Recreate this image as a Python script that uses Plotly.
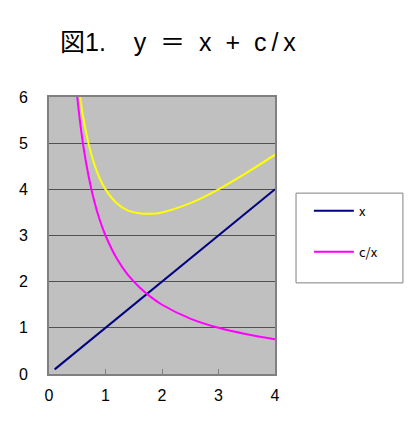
import plotly.graph_objects as go

# Values
x_line_x = [0.1, 4.0]
x_line_y = [0.1, 4.0]

curve_x = [0.4, 0.5, 0.6, 0.7, 0.8, 0.9, 1.0, 1.2, 1.4, 1.6, 1.8, 2.0, 2.5, 3.0, 3.5, 4.0]
c_over_x = [7.5, 6.0, 5.0, 4.29, 3.75, 3.33, 3.0, 2.5, 2.14, 1.88, 1.67, 1.5, 1.2, 1.0, 0.86, 0.75]
x_plus_c_over_x = [7.9, 6.5, 5.6, 4.99, 4.55, 4.23, 4.0, 3.7, 3.54, 3.48, 3.47, 3.5, 3.7, 4.0, 4.36, 4.75]

x_ticks = [0, 1, 2, 3, 4]
y_ticks = [0, 1, 2, 3, 4, 5, 6]

fig = go.Figure()

fig.add_trace(go.Scatter(x=curve_x, y=x_plus_c_over_x, mode='lines', name='x + c/x',
                         line=dict(color='#FFFF00', width=2, shape='spline'),
                         showlegend=False))
fig.add_trace(go.Scatter(x=x_line_x, y=x_line_y, mode='lines', name='x',
                         line=dict(color='#000080', width=2), legendgroup='a'))
fig.add_trace(go.Scatter(x=curve_x, y=c_over_x, mode='lines', name='c/x',
                         line=dict(color='#FF00FF', width=2, shape='spline'), legendgroup='b'))

# legend frame (Excel-style box, wider than its entries)
fig.add_shape(type='rect', xref='paper', yref='paper',
              x0=1.093, x1=1.566, y0=0.329, y1=0.653,
              line=dict(color='#808080', width=1), fillcolor='white', layer='below')

nb = '\u00a0'
thin = '\u2009'
title_text = ('図1.' + nb * 4 + 'y' + nb * 2 + '＝' + nb * 2 + 'x' + nb * 2 + '+' + nb * 2
              + 'c' + thin + '/' + thin + 'x')

fig.update_layout(
    width=411, height=439,
    margin=dict(l=49, r=136, t=97, b=65, autoexpand=False),
    paper_bgcolor='white',
    plot_bgcolor='#C0C0C0',
    font=dict(family='Liberation Sans, Noto Sans CJK JP', size=16, color='black'),
    title=dict(text=title_text, x=0.433, xanchor='center', y=0.904, yanchor='middle',
               font=dict(size=25, family='Liberation Sans, Noto Sans CJK JP')),
    xaxis=dict(range=[0, 4], tickvals=x_ticks, showgrid=False, zeroline=False,
               showline=True, linecolor='#808080', linewidth=2, mirror=True,
               ticks='inside', ticklen=5, tickcolor='#808080', automargin=False,
               ticklabelstandoff=6),
    yaxis=dict(range=[0, 6], tickvals=y_ticks, showgrid=True, gridcolor='#505050', gridwidth=1,
               zeroline=False, showline=True, linecolor='#808080', linewidth=2, mirror=True,
               ticks='', ticklabelstandoff=16, automargin=False),
    legend=dict(x=1.150, y=0.643, xanchor='left', yanchor='top',
                borderwidth=0, bgcolor='rgba(0,0,0,0)',
                font=dict(size=13, family='Noto Sans CJK JP'),
                tracegroupgap=21, itemwidth=40),
    showlegend=True,
)

fig.write_html("out.html", config={'displayModeBar': False},
               post_script="document.body.style.margin='0';")
